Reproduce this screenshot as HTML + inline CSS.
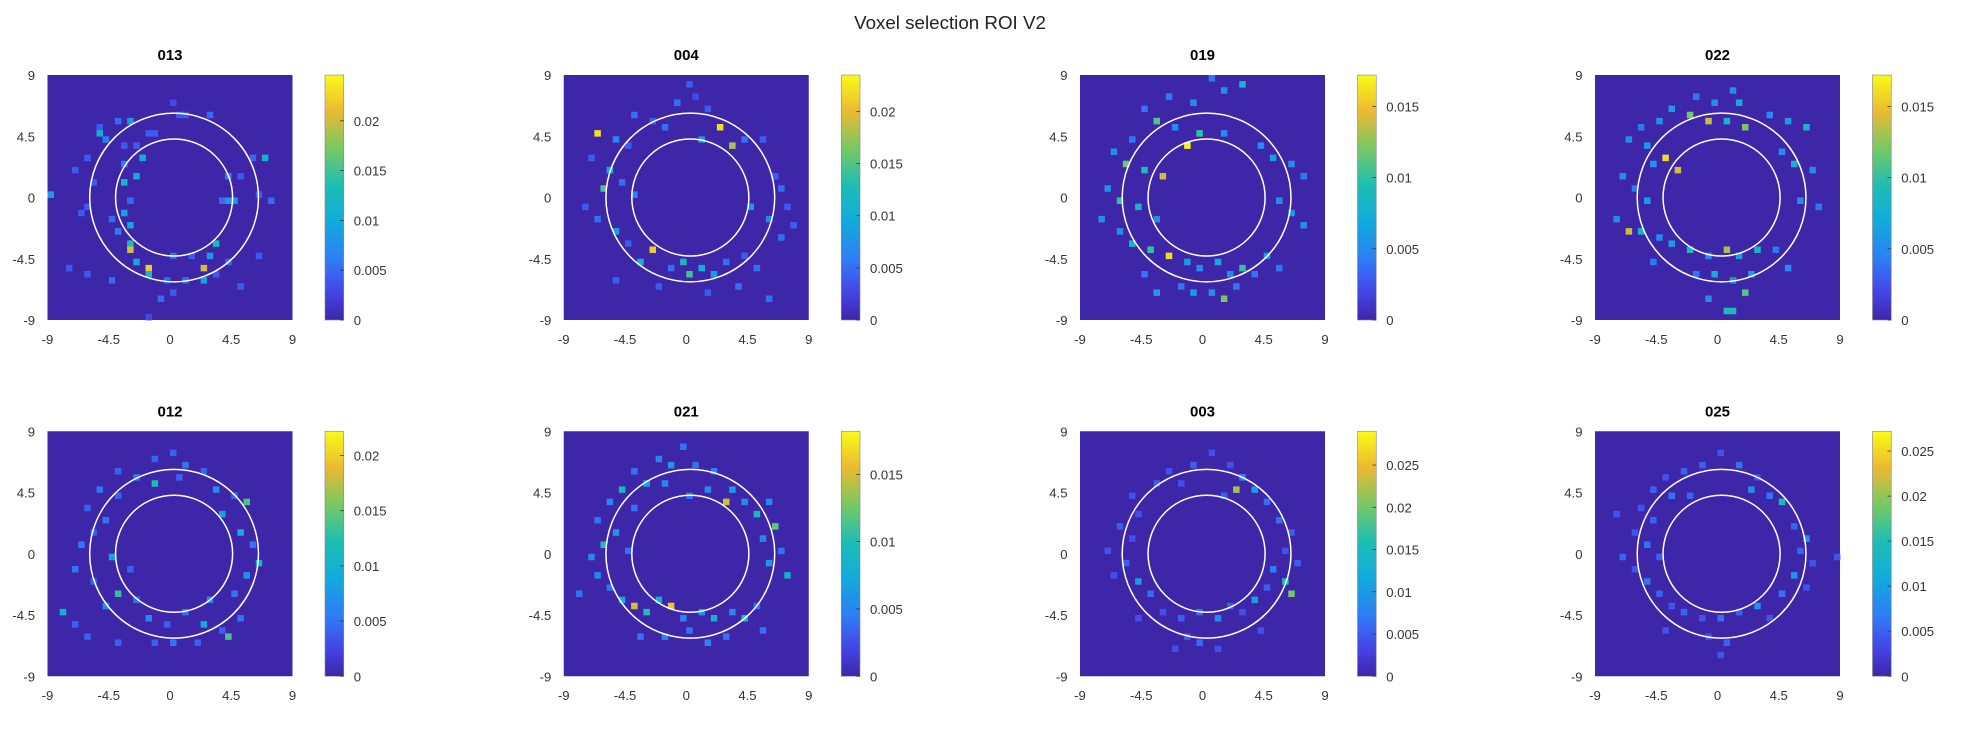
<!DOCTYPE html>
<html><head><meta charset="utf-8"><style>
body{margin:0;background:#fff;}
svg text{font-family:"Liberation Sans",sans-serif;}
</style></head><body>
<svg id="fig" width="1964" height="742" xmlns="http://www.w3.org/2000/svg">
<g id="root" transform="scale(1.25)">
<text x="760" y="23" font-size="15" text-anchor="middle" fill="#222">Voxel selection ROI V2</text>
</g>
</svg>
<script>
// data
const subjects=["013","004","019","022","012","021","003","025"];
const cbMax=[0.0246,0.0235,0.0172,0.0172,0.0222,0.0182,0.0290,0.0272];
const cbTicks=[[0,0.005,0.01,0.015,0.02],[0,0.005,0.01,0.015,0.02],[0,0.005,0.01,0.015],[0,0.005,0.01,0.015],[0,0.005,0.01,0.015,0.02],[0,0.005,0.01,0.015],[0,0.005,0.01,0.015,0.02,0.025],[0,0.005,0.01,0.015,0.02,0.025]];
const axisTicks=[-9,-4.5,0,4.5,9];
const axisTickLabels=["-9","-4.5","0","4.5","9"];
const rings=[4.3,6.2];
// cells: grid index gx,gy (0.45 units each, gy up), value in thousandths
const cells=[
"0,15,3 1,13,4 2,13,4 6,13,5 -12,11,4 -9,12,5 -7,12,8 -12,10,10 -11,9,6 -4,10,4 -3,10,4 -8,8,4 -6,8,4 -14,6,4 -5,6,10 -8,5,6 -6,3,10 -8,2,12 9,3,6 11,3,4 13,6,5 15,6,11 -16,4,4 -13,2,4 -20,0,9 -14,-2,4 -7,-1,5 -8,-3,9 -7,-5,9 8,-1,5 9,-1,8 10,-1,8 14,0,4 16,-1,5 -15,-3,4 -10,-4,5 -9,-6,6 -7,-8,13 -7,-9,20 -6,-11,10 -4,-12,22 -17,-12,4 -14,-13,4 -10,-14,5 -4,-13,12 -1,-14,5 2,-14,5 5,-14,9 7,-13,4 5,-12,20 9,-11,5 11,-15,4 7,-8,12 6,-10,8 3,-10,4 0,-10,5 14,-10,4 -2,-17,5 0,-16,4 -4,-20,3",
"0,18,4 1,16,3 -2,15,5 3,14,4 -9,13,5 -6,12,4 5,11,22 -15,10,22 -12,9,6 -10,8,4 -4,11,5 2,9,8 7,8,18 9,9,5 12,9,4 -16,6,4 -13,4,10 -11,2,5 -14,1,15 -9,0,6 14,3,4 15,1,5 16,-2,4 13,-4,6 10,-2,8 -17,-2,4 -15,-4,5 -12,-6,8 -10,-8,4 -8,-11,10 -6,-9,21 -3,-12,5 -1,-11,12 0,-13,14 2,-12,10 4,-13,8 6,-11,5 9,-10,4 11,-12,5 -5,-15,4 3,-16,4 8,-15,5 13,-17,5 -12,-14,4 15,-7,5 17,-5,4",
"1,19,4 3,17,5 6,18,8 -6,16,4 -2,15,5 -10,14,4 -8,12,11 -5,11,5 -1,10,10 3,10,5 -3,8,17 -12,9,4 -15,7,5 -13,5,12 -10,4,9 -7,3,14 9,8,5 11,6,6 14,5,5 16,3,4 -16,1,5 -14,-1,10 -11,-2,8 -8,-4,5 12,-1,5 14,-3,6 16,-5,5 -17,-4,5 -14,-6,5 -12,-8,8 -9,-9,10 -6,-10,16 -3,-11,6 -1,-12,5 2,-11,7 4,-13,5 6,-12,10 8,-13,4 10,-10,6 -4,-15,4 -2,-16,6 1,-16,5 3,-17,12 5,-15,4 -8,-16,6 12,-12,4 -10,-13,4",
"2,17,5 -4,16,4 -1,15,5 3,15,7 -8,14,6 -5,13,12 -2,12,14 1,12,8 4,11,12 -10,12,5 -13,11,4 8,13,5 11,12,6 14,11,8 -15,9,5 -12,8,6 -9,6,16 -11,5,6 -7,4,14 10,7,5 12,5,8 15,4,5 -16,3,5 -14,1,4 -12,-1,6 13,-1,5 16,-2,4 -17,-4,5 -15,-6,14 -13,-6,8 -10,-7,5 -8,-8,6 -5,-9,9 -2,-10,5 1,-9,13 3,-10,6 6,-9,8 9,-9,4 -4,-13,4 -1,-13,7 2,-14,5 5,-13,6 4,-16,11 -2,-17,5 1,-19,9 2,-19,9 -11,-11,4 11,-12,5",
"0,16,4 -3,15,4 2,14,5 5,13,4 -9,13,4 -6,12,5 -3,11,12 1,12,4 -12,10,5 -9,9,4 7,10,6 10,9,4 12,8,14 8,6,8 -14,7,4 -11,5,5 -13,3,4 -15,1,5 -10,-1,8 -7,-3,4 11,3,9 13,1,5 14,-2,10 12,-4,7 -16,-3,5 -13,-5,4 -9,-7,13 -11,-9,6 -18,-10,10 -16,-12,4 -14,-14,4 -6,-8,5 -4,-11,6 -1,-12,4 2,-10,5 5,-12,9 8,-13,4 9,-14,14 11,-11,5 -3,-15,4 0,-15,5 4,-15,4 -9,-15,4 6,-8,6 10,-7,5",
"-1,17,4 -5,15,5 -3,14,6 1,14,4 4,13,5 -9,13,4 -7,11,7 -4,11,5 -11,10,9 -13,8,5 -9,7,4 0,9,4 3,10,5 7,10,6 6,8,15 9,8,5 11,6,9 13,8,5 -15,5,4 -12,3,6 -14,1,10 -10,0,4 -16,-1,5 14,4,12 12,2,5 15,0,4 13,-2,6 16,-4,8 -15,-4,5 -13,-6,4 -11,-8,7 -9,-9,15 -7,-10,10 -5,-8,8 -3,-9,16 -1,-11,5 2,-10,6 4,-11,8 7,-10,5 9,-11,10 11,-9,4 -4,-14,5 0,-13,4 3,-15,5 6,-14,4 -8,-14,4 12,-13,4 -18,-7,4",
"1,16,4 -2,14,5 4,14,4 -6,13,4 -8,11,5 -4,11,4 6,12,8 8,10,10 5,10,22 3,9,5 10,8,6 -12,9,4 -11,6,4 -14,4,5 -12,2,4 12,5,6 14,3,5 13,0,4 15,-2,5 -16,0,4 -13,-2,5 -15,-4,4 -11,-5,10 -9,-7,6 11,-3,7 13,-5,16 14,-7,20 10,-6,5 -7,-10,4 -4,-11,5 -1,-10,6 2,-11,8 4,-9,5 6,-10,4 8,-8,10 -3,-14,5 -1,-15,6 2,-16,4 -5,-16,4 9,-13,4 -11,-11,4",
"0,16,4 -3,14,5 3,14,6 -6,13,5 -9,12,4 6,12,4 -11,10,5 -8,9,6 -5,9,5 5,10,8 8,9,6 10,8,14 -13,7,4 -11,5,5 -14,3,4 -12,1,6 -10,-1,5 12,4,5 14,2,8 13,0,5 15,-2,4 -16,-1,5 -14,-3,4 -12,-5,6 -10,-7,5 12,-4,9 14,-6,4 10,-7,6 -8,-9,4 -6,-10,5 -3,-11,4 0,-11,6 3,-10,5 6,-9,8 8,-11,4 -2,-14,4 1,-15,5 0,-17,4 -9,-13,4 19,-1,4 -17,6,4"
];
const panelLeft=[38,451,864,1276];
const panelTop=[60,345];
const P=196, cbW=15;
const stops=[[0,[62,38,168]],[0.12,[70,70,235]],[0.25,[45,127,245]],[0.4,[18,170,220]],[0.55,[30,190,180]],[0.7,[120,200,100]],[0.85,[235,185,50]],[1,[249,251,21]]];
function parula(t){t=Math.max(0,Math.min(1,t));for(let i=1;i<stops.length;i++){if(t<=stops[i][0]){const a=stops[i-1],b=stops[i];const f=(t-a[0])/(b[0]-a[0]);return 'rgb('+a[1].map((c,k)=>Math.round(c+(b[1][k]-c)*f)).join(',')+')';}}return 'rgb(249,251,21)';}
const NS="http://www.w3.org/2000/svg";
const svg=document.getElementById('root');
function mk(tag,attrs,parent){const e=document.createElementNS(NS,tag);for(const k in attrs)e.setAttribute(k,attrs[k]);(parent||svg).appendChild(e);return e;}
subjects.forEach((s,p)=>{
  const L=panelLeft[p%4], T=panelTop[Math.floor(p/4)];
  const g=mk('g',{});
  
  
  const sx=v=>L+(v+9)/18*P, sy=v=>T+(9-v)/18*P;
  const bg=mk('rect',{x:L,y:T,width:P,height:P,fill:parula(0)},g);
  
  
  const mx=cbMax[p];
  cells[p].split(' ').forEach(c=>{const [gx,gy,v]=c.split(',').map(Number);
    const x0=gx*0.45, y0=(gy+1)*0.45;
    const r=mk('rect',{x:sx(x0),y:sy(y0),width:P/40+0.3,height:P/40+0.3,fill:parula(v/1000/mx)},g);
    
    
  });
  rings.forEach(rad=>{const c=mk('ellipse',{cx:sx(0.3),cy:sy(0),rx:rad/18*P,ry:rad/18*P,fill:'none',stroke:'#fff','stroke-width':1.2},g);
    
    });
  const t=mk('text',{x:L+P/2,y:T-12,'font-size':12,'font-weight':'bold','text-anchor':'middle',fill:'#000'},g);t.textContent=s;
  
  
  axisTicks.forEach((v,i)=>{
    const yl=mk('text',{x:L-10,y:sy(v)+4,'font-size':10.5,'text-anchor':'end',fill:'#333'},g);yl.textContent=axisTickLabels[i];
    
    
    const xl=mk('text',{x:sx(v),y:T+P+19,'font-size':10.5,'text-anchor':'middle',fill:'#333'},g);xl.textContent=axisTickLabels[i];
    
    
  });
  const CL=L+222;
  const grad=mk('linearGradient',{id:'gr'+p,x1:0,y1:1,x2:0,y2:0},g);
  for(let i=0;i<=20;i++)mk('stop',{offset:i/20,'stop-color':parula(i/20)},grad);
  const cb=mk('rect',{x:CL,y:T,width:cbW,height:P,fill:'url(#gr'+p+')',stroke:'#888','stroke-width':0.5},g);
  
  
  cbTicks[p].forEach(v=>{const yy=T+P-v/mx*P;
    mk('line',{x1:CL+cbW-3,x2:CL+cbW,y1:yy,y2:yy,stroke:'#333','stroke-width':0.6},g);
    const tl=mk('text',{x:CL+cbW+8,y:yy+4,'font-size':10.5,fill:'#333'},g);tl.textContent=String(v);
    
    });
});
</script>
</body></html>
